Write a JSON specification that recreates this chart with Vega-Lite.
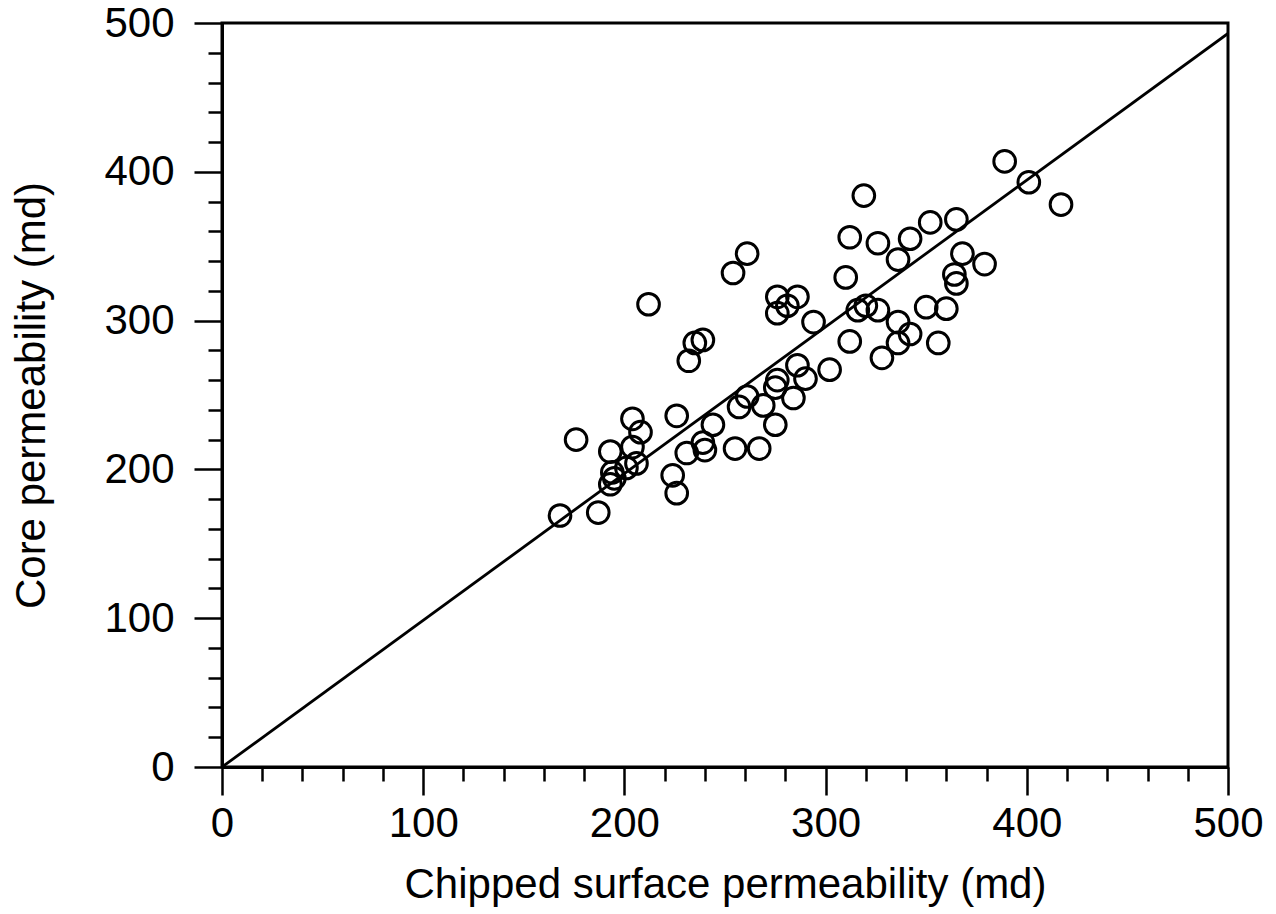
{
  "$schema": "https://vega.github.io/schema/vega-lite/v6.json",
  "width": 1006,
  "height": 744,
  "autosize": "none",
  "padding": {"left": 222, "top": 23, "right": 48, "bottom": 147},
  "background": "white",
  "config": {
    "view": {"stroke": "black", "strokeWidth": 3},
    "font": "Liberation Sans",
    "axis": {
      "domainColor": "black",
      "domainWidth": 3,
      "tickColor": "black",
      "tickWidth": 2.5,
      "grid": false,
      "labelFont": "Liberation Sans",
      "labelFontSize": 42,
      "labelColor": "black",
      "labelOverlap": false,
      "titleFont": "Liberation Sans",
      "titleFontSize": 42,
      "titleFontWeight": "normal",
      "titleColor": "black"
    }
  },
  "datasets": {
    "points": [
      {"chipped": 168, "core": 169},
      {"chipped": 176, "core": 220},
      {"chipped": 187, "core": 171},
      {"chipped": 193, "core": 212},
      {"chipped": 193, "core": 190},
      {"chipped": 194, "core": 198},
      {"chipped": 195, "core": 194},
      {"chipped": 201, "core": 201},
      {"chipped": 204, "core": 234},
      {"chipped": 208, "core": 225},
      {"chipped": 204, "core": 215},
      {"chipped": 206, "core": 204},
      {"chipped": 212, "core": 311},
      {"chipped": 224, "core": 196},
      {"chipped": 226, "core": 184},
      {"chipped": 226, "core": 236},
      {"chipped": 231, "core": 211},
      {"chipped": 232, "core": 273},
      {"chipped": 235, "core": 285},
      {"chipped": 239, "core": 287},
      {"chipped": 239, "core": 218},
      {"chipped": 240, "core": 213},
      {"chipped": 244, "core": 230},
      {"chipped": 254, "core": 332},
      {"chipped": 255, "core": 214},
      {"chipped": 257, "core": 242},
      {"chipped": 261, "core": 345},
      {"chipped": 261, "core": 249},
      {"chipped": 267, "core": 214},
      {"chipped": 269, "core": 243},
      {"chipped": 275, "core": 230},
      {"chipped": 275, "core": 255},
      {"chipped": 276, "core": 260},
      {"chipped": 276, "core": 316},
      {"chipped": 276, "core": 305},
      {"chipped": 281, "core": 310},
      {"chipped": 286, "core": 316},
      {"chipped": 284, "core": 248},
      {"chipped": 286, "core": 270},
      {"chipped": 290, "core": 261},
      {"chipped": 294, "core": 299},
      {"chipped": 302, "core": 267},
      {"chipped": 310, "core": 329},
      {"chipped": 312, "core": 286},
      {"chipped": 312, "core": 356},
      {"chipped": 316, "core": 307},
      {"chipped": 319, "core": 384},
      {"chipped": 320, "core": 310},
      {"chipped": 326, "core": 307},
      {"chipped": 326, "core": 352},
      {"chipped": 328, "core": 275},
      {"chipped": 336, "core": 341},
      {"chipped": 336, "core": 299},
      {"chipped": 336, "core": 285},
      {"chipped": 342, "core": 291},
      {"chipped": 342, "core": 355},
      {"chipped": 350, "core": 309},
      {"chipped": 352, "core": 366},
      {"chipped": 356, "core": 285},
      {"chipped": 360, "core": 308},
      {"chipped": 364, "core": 331},
      {"chipped": 365, "core": 325},
      {"chipped": 365, "core": 368},
      {"chipped": 368, "core": 345},
      {"chipped": 379, "core": 338},
      {"chipped": 389, "core": 407},
      {"chipped": 401, "core": 393},
      {"chipped": 417, "core": 378}
    ],
    "line": [
      {"chipped": 0, "core": 0},
      {"chipped": 500, "core": 493}
    ]
  },
  "encoding": {
    "x": {
      "field": "chipped",
      "type": "quantitative",
      "scale": {"domain": [0, 500], "nice": false, "zero": false},
      "axis": {
        "title": "Chipped surface permeability (md)",
        "values": [0, 20, 40, 60, 80, 100, 120, 140, 160, 180, 200, 220, 240, 260, 280, 300, 320, 340, 360, 380, 400, 420, 440, 460, 480, 500],
        "labelExpr": "datum.value % 100 === 0 ? datum.label : ''",
        "tickSize": {"condition": {"test": "datum.value % 100 === 0", "value": 28}, "value": 14},
        "labelPadding": 8,
        "labelOverlap": false,
        "labelFlush": false,
        "titlePadding": 20
      }
    },
    "y": {
      "field": "core",
      "type": "quantitative",
      "scale": {"domain": [0, 500], "nice": false, "zero": false},
      "axis": {
        "title": "Core permeability (md)",
        "values": [0, 20, 40, 60, 80, 100, 120, 140, 160, 180, 200, 220, 240, 260, 280, 300, 320, 340, 360, 380, 400, 420, 440, 460, 480, 500],
        "labelExpr": "datum.value % 100 === 0 ? datum.label : ''",
        "tickSize": {"condition": {"test": "datum.value % 100 === 0", "value": 28}, "value": 14},
        "labelPadding": 20,
        "labelOverlap": false,
        "labelFlush": false,
        "titlePadding": 50
      }
    }
  },
  "layer": [
    {
      "data": {"name": "line"},
      "mark": {"type": "line", "color": "black", "strokeWidth": 2.8, "clip": true}
    },
    {
      "data": {"name": "points"},
      "mark": {"type": "point", "shape": "circle", "filled": false, "stroke": "black", "strokeWidth": 3, "size": 470, "opacity": 1}
    }
  ]
}
